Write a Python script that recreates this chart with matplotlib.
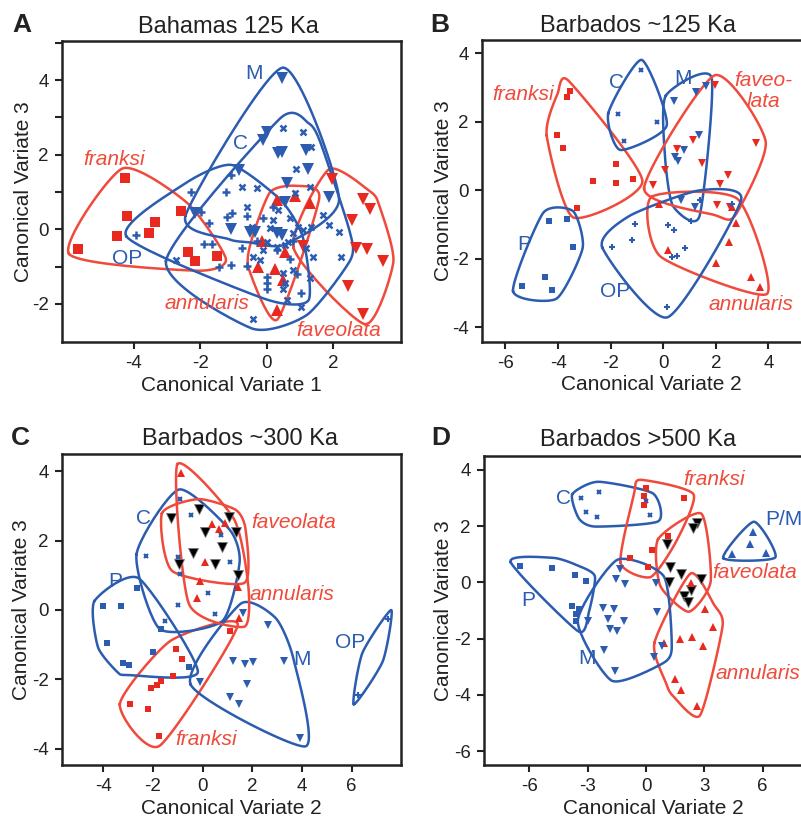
import numpy as np
import matplotlib
matplotlib.use("Agg")
import matplotlib.pyplot as plt

plt.rcParams['font.family'] = ['Liberation Sans', 'DejaVu Sans']
plt.rcParams['axes.unicode_minus'] = False

BLUE = '#2b5cb0'
RED = '#e8291f'
RED_LINE = '#ef4a3b'
INK = '#222222'

# ---- A: Bahamas 125 Ka (CV1 vs CV3)
a_franksi_x = [-5.67, -4.51, -4.27, -4.20, -3.54, -3.35, -2.58, -2.38, -2.15, -1.51]
a_franksi_y = [-0.54, -0.18, 1.37, 0.36, -0.11, 0.21, 0.50, -0.60, -0.84, -0.71]
a_fav_x = [2.90, 3.10, 2.57, 2.67, 3.00, 3.50, 2.45, 2.90, 1.95, 1.10]
a_fav_y = [0.82, 0.54, 0.25, -0.50, -0.53, -0.86, -1.53, -2.28, 1.35, -0.45]
a_ann_x = [0.30, 1.30, 0.85, -0.15, -0.25, 0.25, 0.55, 0.50, 0.30]
a_ann_y = [0.80, 0.72, 0.90, -0.30, -1.00, -1.05, -0.60, -1.37, -2.15]
a_m_x = [0.45, -0.10, 0.00, 0.35, 0.45, 1.19, 1.24, -0.83, 0.62, 1.88, 0.55,
         -1.08, -0.50, -0.35, 0.30, 0.45, -2.15]
a_m_y = [4.07, 2.40, 2.60, 2.04, 2.08, 2.13, 1.63, 1.60, 1.23, 0.87, 0.74,
         0.00, -0.08, -0.06, -0.10, -0.15, 0.45]
a_c_x = [0.49, 1.09, 1.34, 0.89, 1.29, 0.84, 1.68, 1.88, 2.18, 2.23, 1.39, 1.19,
         1.29, 1.04, 0.60, 0.49, 0.49, 0.79, 0.54, -0.40, -2.73, -0.74, -0.30,
         0.35, 0.10, -0.45, 0.00, 0.30, 0.54, -0.40, -0.20, 0.79, 0.94, 1.09,
         0.64, 1.34, -0.60, 0.20, 0.70, -0.10]
a_c_y = [2.71, 2.62, 2.21, 1.63, 1.14, 0.97, 0.38, 0.12, -0.06, -0.73, -0.73, -0.51,
         -1.31, -2.07, -1.90, -1.18, -1.60, -1.09, -1.45, -2.39, -0.82, 1.14, 1.10,
         0.52, 0.03, 0.07, -0.33, -0.47, -0.42, -0.73, -0.82, -0.11, 0.07, -0.02,
         -0.33, 0.07, 0.60, 0.25, 0.30, -0.55]
a_op_x = [-3.92, -2.28, -1.98, -1.74, -1.88, -1.64, -1.44, -1.09, -1.19, -1.04,
          -1.24, -1.09, -0.60, 0.00, 0.00, 0.00, 1.04, -0.60, -0.10, 0.20, 0.80,
          0.90, -0.75, 0.30, -0.30, 0.70]
a_op_y = [-0.15, 1.01, 0.46, 0.16, -0.38, -0.38, -1.00, -0.95, 0.34, 0.43,
          1.01, 1.46, -0.98, -1.28, -1.45, -1.60, -1.71, 0.35, 0.30, 0.60, -0.30,
          -1.20, -0.50, -0.55, -0.30, -0.80]

# ---- B: Barbados ~125 Ka (CV2 vs CV3)
b_franksi_x = [-3.55, -3.66, -4.05, -3.80, -1.81, -2.68, -1.81, -1.16, -3.27]
b_franksi_y = [2.89, 2.71, 1.60, 1.24, 0.76, 0.26, 0.20, 0.33, -0.53]
b_p_x = [-4.34, -3.65, -3.44, -4.49, -5.38, -4.24]
b_p_y = [-0.90, -0.85, -1.65, -2.54, -2.80, -2.91]
b_c_x = [-0.85, -1.71, -0.22, -1.48]
b_c_y = [3.51, 2.21, 1.99, 1.44]
b_m_x = [1.62, 1.25, 0.42, 1.38, 0.78, 0.45, 0.57, 0.68, 1.20]
b_m_y = [3.05, 2.85, 2.60, 1.62, 1.18, 0.98, 0.86, -0.29, -0.50]
b_fav_x = [1.97, 3.52, 1.15, 0.51, 1.46, 0.06, -0.37, 2.47, 2.16, 2.03, 2.54]
b_fav_y = [3.06, 1.38, 1.46, 1.21, 0.78, 0.58, 0.15, 0.44, 0.17, -0.44, -0.49]
b_ann_x = [-0.16, 2.60, 2.75, 2.50, 2.00, 3.33, 3.68, 0.19]
b_ann_y = [-0.39, -0.49, -0.97, -1.51, -2.12, -2.52, -2.82, -1.75]
b_op_x = [-1.94, -1.18, -1.06, 0.19, 0.41, 1.04, 0.82, 0.35, 0.53, 0.13, 2.62, 1.40]
b_op_y = [-1.67, -1.46, -0.99, -1.02, -1.15, -0.89, -1.70, -1.94, -1.92, -3.42, -0.41, -0.30]

# ---- C: Barbados ~300 Ka (CV2 vs CV3)
c_franksi_x = [1.10, -1.07, -0.81, -1.18, -1.68, -1.85, -2.09, -2.93, -2.21, -1.76]
c_franksi_y = [-0.60, -1.13, -1.42, -1.90, -2.04, -2.17, -2.25, -2.71, -2.86, -3.63]
c_p_x = [-2.66, -4.00, -3.30, -1.68, -3.84, -1.99, -3.22, -2.95, -0.54]
c_p_y = [0.63, 0.12, 0.12, -0.56, -0.96, -1.20, -1.54, -1.59, -1.65]
c_c_x = [-0.89, -0.47, -2.26, -0.98, -0.89, 0.23, -0.98, -1.50, 0.52, 1.09, 0.75]
c_c_y = [3.19, 2.74, 1.57, 1.54, 1.03, 0.50, 0.14, -0.31, -0.11, 1.38, 2.16]
c_m_x = [1.64, 2.65, 1.24, 1.72, 2.03, 3.27, 1.78, 1.12, 1.48, -0.09, 3.91]
c_m_y = [-0.10, -0.43, -1.48, -1.55, -1.50, -1.48, -2.13, -2.51, -2.70, -2.08, -3.70]
c_fav_x = [-1.29, -0.16, 1.07, 1.34, 0.11, 0.80, -0.38, -0.94, 0.49, 1.42]
c_fav_y = [2.64, 2.91, 2.67, 2.26, 2.25, 1.82, 1.63, 1.33, 1.34, 1.00]
c_ann_x = [-0.85, 0.37, 0.65, 0.08, -0.11, -0.22, 1.44, 1.46, 0.90]
c_ann_y = [3.94, 2.49, 2.33, 1.37, 0.85, 0.34, 0.67, -0.24, 2.50]
c_op_x = [7.45, 6.24]
c_op_y = [-0.27, -2.45]

# ---- D: Barbados >500 Ka (CV2 vs CV3)
d_c_x = [-3.33, -2.43, -3.08, -2.51, 0.00, 0.21]
d_c_y = [2.98, 3.22, 2.51, 2.33, 2.90, 2.38]
d_franksi_x = [-0.03, -0.12, -0.09, 1.97, 1.11, 0.31, -0.85, 0.09]
d_franksi_y = [3.34, 3.07, 2.75, 2.98, 1.64, 1.15, 0.85, 0.53]
d_fav_x = [2.62, 2.39, 1.08, 1.25, 1.79, 1.20, 2.82, 2.32, 1.97, 2.14]
d_fav_y = [2.12, 1.92, 1.38, 0.56, 0.28, 0.02, 0.11, -0.27, -0.49, -0.69]
d_ann_x = [2.31, 3.04, 3.42, 2.91, 2.36, 1.74, 0.94, 1.50, 1.79, 2.62]
d_ann_y = [-0.04, -0.96, -1.60, -2.26, -1.93, -2.02, -2.17, -3.44, -3.82, -4.39]
d_pm_x = [5.50, 5.33, 4.44, 6.19]
d_pm_y = [1.80, 1.38, 1.01, 1.05]
d_p_x = [-6.50, -4.86, -3.68, -3.10, -3.83, -3.44, -3.60, -3.63]
d_p_y = [0.58, 0.52, 0.26, 0.06, -0.84, -0.96, -1.12, -1.39]
d_m_x = [-1.33, -1.54, -1.11, -2.23, -1.63, -1.98, -1.16, -1.88, -1.51, -3.00,
         -2.15, -1.59, 0.51, 0.56, 0.82, 0.43]
d_m_y = [0.46, 0.13, -0.07, -0.90, -0.94, -1.32, -1.38, -1.67, -1.73, -1.38,
         -2.41, -3.16, -0.01, -1.04, -2.26, -2.64]


def convex_hull(p):
    pts = sorted(set(map(tuple, p)))
    if len(pts) < 3:
        return np.array(pts)

    def cross(o, a, b):
        return (a[0] - o[0]) * (b[1] - o[1]) - (a[1] - o[1]) * (b[0] - o[0])
    lower, upper = [], []
    for q in pts:
        while len(lower) >= 2 and cross(lower[-2], lower[-1], q) <= 0:
            lower.pop()
        lower.append(q)
    for q in reversed(pts):
        while len(upper) >= 2 and cross(upper[-2], upper[-1], q) <= 0:
            upper.pop()
        upper.append(q)
    return np.array(lower[:-1] + upper[:-1])  # counter-clockwise


def draw_hull(ax, x, y, color, pad=10.0, tension=0.35, n=24):
    """Smooth rounded hull drawn round a group, built in pixel space."""
    pix = ax.transData.transform(np.column_stack([x, y]))
    h = convex_hull(pix)
    if len(h) == 2:
        a, b = h
        d = (b - a) / np.linalg.norm(b - a)
        nrm = np.array([-d[1], d[0]])
        mid = (a + b) / 2
        P = np.array([a - d * pad, mid - nrm * pad * 1.1, b + d * pad, mid + nrm * pad * 1.1])
    else:
        m = len(h)
        P = []
        for i in range(m):
            v, pv, nx = h[i], h[i - 1], h[(i + 1) % m]
            e1, e2 = v - pv, nx - v
            n1 = np.array([e1[1], -e1[0]]) / np.linalg.norm(e1)
            n2 = np.array([e2[1], -e2[0]]) / np.linalg.norm(e2)
            nn = n1 + n2
            nn /= np.linalg.norm(nn)
            P.append(v + nn * pad)
        P = np.array(P)
    m = len(P)
    s = np.linspace(0, 1, n)[:, None]
    h00 = 2 * s**3 - 3 * s**2 + 1
    h10 = s**3 - 2 * s**2 + s
    h01 = -2 * s**3 + 3 * s**2
    h11 = s**3 - s**2
    k = (1 - tension) / 2
    curve = []
    for i in range(m):
        p0, p1, p2, p3 = P[i - 1], P[i], P[(i + 1) % m], P[(i + 2) % m]
        t1, t2 = k * (p2 - p0), k * (p3 - p1)
        curve.append(h00 * p1 + h10 * t1 + h01 * p2 + h11 * t2)
    curve = np.vstack(curve)
    curve = np.vstack([curve, curve[:1]])
    data = ax.transData.inverted().transform(curve)
    ax.plot(data[:, 0], data[:, 1], color=color, lw=1.8, zorder=2,
            solid_joinstyle='round')


def group(ax, x, y, marker, color, hull_color, ms, mew=0.0, edge=None):
    draw_hull(ax, x, y, hull_color)
    if marker in ('x', '+'):
        ax.plot(x, y, ls='none', marker=marker, ms=ms, mew=mew, color=color, zorder=3)
    else:
        ax.plot(x, y, ls='none', marker=marker, ms=ms, mfc=color,
                mec=edge or color, mew=mew, zorder=3)


def label(ax, txt, x, y, color, italic=False, ha='center'):
    ax.text(x, y, txt, color=color, fontsize=15, ha=ha, va='center',
            style='italic' if italic else 'normal', zorder=4, linespacing=1.15)


def setup(rect, xlim, ylim, xticks, yticks, title, tx, tpad, xlab, xly, yly):
    ax = fig.add_axes(rect)
    ax.set_xlim(xlim)
    ax.set_ylim(ylim)
    ax.set_xticks(xticks)
    ax.set_yticks(yticks)
    ax.tick_params(direction='out', length=5, width=1.5, colors=INK,
                   labelsize=13.5, pad=4.5)
    for sp in ax.spines.values():
        sp.set_linewidth(1.8)
        sp.set_color(INK)
    ax.set_title(title, fontsize=17, color=INK, x=tx, pad=tpad)
    ax.set_xlabel(xlab, fontsize=15, color=INK)
    ax.set_ylabel('Canonical Variate 3', fontsize=15, color=INK)
    ax.xaxis.set_label_coords(0.5, xly)
    ax.yaxis.set_label_coords(yly, 0.5)
    return ax


fig = plt.figure(figsize=(8.01, 8.17), dpi=100)
W, H = 801.0, 817.0

# Panel A
ax = setup([62 / W, 1 - 342 / H, 339 / W, 301 / H], (-6.15, 4.03), (-3.02, 5.05),
           [-4, -2, 0, 2], [-2, 0, 2, 4], 'Bahamas 125 Ka', 0.49, 5.5,
           'Canonical Variate 1', -0.112, -0.087)
ax.set_yticks([-1, 1, 3, 5], minor=True)
ax.tick_params(which='minor', direction='out', length=5, width=1.5, colors=INK)
group(ax, a_franksi_x, a_franksi_y, 's', RED, RED_LINE, 7.5)
group(ax, a_fav_x, a_fav_y, 'v', RED, RED_LINE, 8.5)
group(ax, a_ann_x, a_ann_y, '^', RED, RED_LINE, 8.5)
group(ax, a_m_x, a_m_y, 'v', BLUE, BLUE, 8.5)
group(ax, a_c_x, a_c_y, 'x', BLUE, BLUE, 5, mew=1.8)
group(ax, a_op_x, a_op_y, '+', BLUE, BLUE, 6, mew=1.8)
label(ax, 'M', -0.38, 4.18, BLUE)
label(ax, 'C', -0.8, 2.29, BLUE)
label(ax, 'franksi', -4.6, 1.86, RED_LINE, True)
label(ax, 'OP', -4.2, -0.78, BLUE)
label(ax, 'annularis', -1.8, -1.98, RED_LINE, True)
label(ax, 'faveolata', 2.15, -2.7, RED_LINE, True)

# Panel B (its right part runs past the figure edge, as in the original)
ax = setup([482 / W, 1 - 342 / H, 339 / W, 302 / H], (-6.89, 6.0), (-4.43, 4.38),
           [-6, -4, -2, 0, 2, 4], [-4, -2, 0, 2, 4], 'Barbados ~125 Ka', 0.46, 6,
           'Canonical Variate 2', -0.108, -0.087)
group(ax, b_franksi_x, b_franksi_y, 's', RED, RED_LINE, 5)
group(ax, b_p_x, b_p_y, 's', BLUE, BLUE, 5)
group(ax, b_c_x, b_c_y, 'x', BLUE, BLUE, 3.5, mew=1.5)
group(ax, b_m_x, b_m_y, 'v', BLUE, BLUE, 6)
group(ax, b_fav_x, b_fav_y, 'v', RED, RED_LINE, 6)
group(ax, b_ann_x, b_ann_y, '^', RED, RED_LINE, 6)
group(ax, b_op_x, b_op_y, '+', BLUE, BLUE, 4.5, mew=1.5)
label(ax, 'C', -1.77, 3.13, BLUE)
label(ax, 'M', 0.76, 3.25, BLUE)
label(ax, 'faveo-\nlata', 3.8, 2.9, RED_LINE, True)
label(ax, 'franksi', -5.32, 2.8, RED_LINE, True)
label(ax, 'P', -5.29, -1.6, BLUE)
label(ax, 'OP', -1.84, -2.96, BLUE)
label(ax, 'annularis', 3.35, -3.35, RED_LINE, True)

# Panel C
ax = setup([62 / W, 1 - 765 / H, 339 / W, 310.7 / H], (-5.66, 7.99), (-4.47, 4.49),
           [-4, -2, 0, 2, 4, 6], [-4, -2, 0, 2, 4], 'Barbados ~300 Ka', 0.525, 6.5,
           'Canonical Variate 2', -0.11, -0.091)
group(ax, c_franksi_x, c_franksi_y, 's', RED, RED_LINE, 5)
group(ax, c_p_x, c_p_y, 's', BLUE, BLUE, 5)
group(ax, c_c_x, c_c_y, 'x', BLUE, BLUE, 3.5, mew=1.5)
group(ax, c_m_x, c_m_y, 'v', BLUE, BLUE, 6)
group(ax, c_fav_x, c_fav_y, 'v', 'black', RED_LINE, 6.5, mew=0.6, edge='#777777')
group(ax, c_ann_x, c_ann_y, '^', RED, RED_LINE, 6)
group(ax, c_op_x, c_op_y, '+', BLUE, BLUE, 4.5, mew=1.5)
label(ax, 'C', -2.36, 2.64, BLUE)
label(ax, 'faveolata', 3.65, 2.52, RED_LINE, True)
label(ax, 'annularis', 3.58, 0.46, RED_LINE, True)
label(ax, 'P', -3.53, 0.82, BLUE)
label(ax, 'M', 4.01, -1.44, BLUE)
label(ax, 'OP', 5.93, -0.94, BLUE)
label(ax, 'franksi', 0.16, -3.73, RED_LINE, True)

# Panel D
ax = setup([484 / W, 1 - 765 / H, 339 / W, 309.3 / H], (-8.34, 9.1), (-6.49, 4.5),
           [-6, -3, 0, 3, 6], [-6, -4, -2, 0, 2, 4], 'Barbados >500 Ka', 0.454, 7.2,
           'Canonical Variate 2', -0.11, -0.091)
group(ax, d_c_x, d_c_y, 'x', BLUE, BLUE, 3.5, mew=1.5)
group(ax, d_franksi_x, d_franksi_y, 's', RED, RED_LINE, 5)
group(ax, d_fav_x, d_fav_y, 'v', 'black', RED_LINE, 6.5, mew=0.6, edge='#777777')
group(ax, d_ann_x, d_ann_y, '^', RED, RED_LINE, 6)
group(ax, d_pm_x, d_pm_y, '^', BLUE, BLUE, 6)
group(ax, d_p_x, d_p_y, 's', BLUE, BLUE, 5)
group(ax, d_m_x, d_m_y, 'v', BLUE, BLUE, 6)
label(ax, 'C', -4.24, 2.98, BLUE)
label(ax, 'franksi', 3.5, 3.67, RED_LINE, True)
label(ax, 'P/M', 6.12, 2.24, BLUE, ha='left')
label(ax, 'faveolata', 3.42, 0.34, RED_LINE, True, ha='left')
label(ax, 'P', -6.07, -0.66, BLUE)
label(ax, 'M', -3.03, -2.7, BLUE)
label(ax, 'annularis', 3.56, -3.23, RED_LINE, True, ha='left')

for letter, px, py in [('A', 22, 25), ('B', 440, 25), ('C', 20, 438), ('D', 441, 438)]:
    fig.text(px / W, 1 - py / H, letter, fontsize=19, fontweight='bold',
             color=INK, ha='center', va='center')

fig.savefig('out.png', dpi=100, facecolor='white')
